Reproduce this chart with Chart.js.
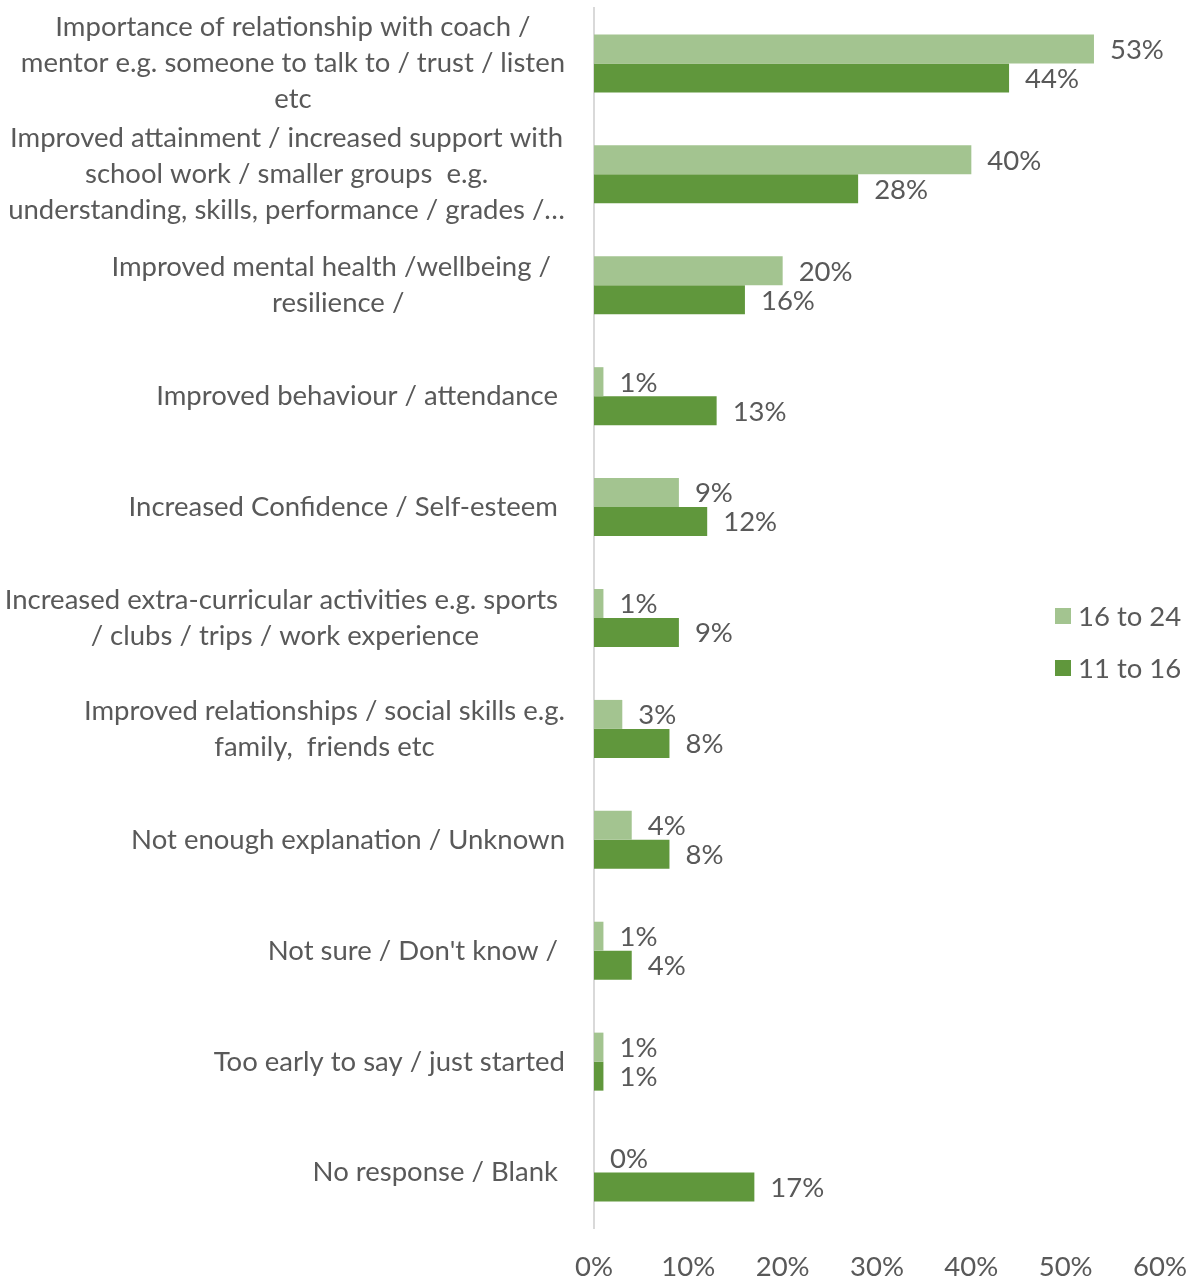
<!DOCTYPE html>
<html>
<head>
<meta charset="utf-8">
<script src="https://cdn.jsdelivr.net/npm/chart.js@4.4.1/dist/chart.umd.min.js"></script>
<style>
  body { margin: 0; background: #fff; }
  #wrap { width: 1194px; height: 1277px; position: relative; }
</style>
</head>
<body>
<div id="wrap"><canvas id="impactChart"></canvas></div>
<script>
// categories, each one an array of wrapped lines (trailing spaces kept as typed)
const categories = [
  ["Importance of relationship with coach /", "mentor e.g. someone to talk to / trust / listen", "etc"],
  ["Improved attainment / increased support with", "school work / smaller groups  e.g.", "understanding, skills, performance / grades /\u2026"],
  ["Improved mental health /wellbeing /  ", "resilience /"],
  ["Improved behaviour / attendance "],
  ["Increased Confidence / Self-esteem "],
  ["Increased extra-curricular activities e.g. sports ", "/ clubs / trips / work experience"],
  ["Improved relationships / social skills e.g.", "family,  friends etc"],
  ["Not enough explanation / Unknown"],
  ["Not sure / Don't know / "],
  ["Too early to say / just started"],
  ["No response / Blank "]
];
const age16to24 = [53, 40, 20, 1, 9, 1, 3, 4, 1, 1, 0];
const age11to16 = [44, 28, 16, 13, 12, 9, 8, 8, 4, 1, 17];
const xTicks = [0, 10, 20, 30, 40, 50, 60];

const textColor = "#595959";
const fontFamily = "Lato, 'Open Sans', sans-serif";
const fontSize = 27.5;

// category labels: lines centred inside a block that sits against the axis
const categoryLabels = {
  id: "categoryLabels",
  afterDraw(chart) {
    const ctx = chart.ctx;
    const y = chart.scales.y;
    const right = y.right - 29;
    const lineH = 36;
    ctx.save();
    ctx.font = fontSize + "px " + fontFamily;
    ctx.fillStyle = textColor;
    ctx.textAlign = "center";
    ctx.textBaseline = "middle";
    categories.forEach((lines, i) => {
      const mid = y.getPixelForTick(i);
      const widest = Math.max(...lines.map(l => ctx.measureText(l).width));
      const cx = right - widest / 2;
      const top = mid - (lines.length - 1) * lineH / 2;
      lines.forEach((l, j) => {
        const w = ctx.measureText(l).width;
        const lead = ctx.measureText(l.trimEnd()).width;
        // centre the visible text as if trailing spaces were part of it
        ctx.fillText(l.trimEnd(), cx - (w - lead) / 2, top + j * lineH);
      });
    });
    ctx.restore();
  }
};

// percentage labels at the end of each bar
const valueLabels = {
  id: "valueLabels",
  afterDatasetsDraw(chart) {
    const ctx = chart.ctx;
    ctx.save();
    ctx.font = fontSize + "px " + fontFamily;
    ctx.fillStyle = textColor;
    ctx.textAlign = "left";
    ctx.textBaseline = "middle";
    chart.data.datasets.forEach((ds, d) => {
      chart.getDatasetMeta(d).data.forEach((bar, i) => {
        ctx.fillText(ds.data[i] + "%", bar.x + 16, bar.y + 1);
      });
    });
    ctx.restore();
  }
};

// legend floating over the right side of the plot
const sideLegend = {
  id: "sideLegend",
  afterDraw(chart) {
    const ctx = chart.ctx;
    const x = 1055;
    const ys = [616, 668];
    ctx.save();
    ctx.font = fontSize + "px " + fontFamily;
    ctx.textAlign = "left";
    ctx.textBaseline = "middle";
    chart.data.datasets.forEach((ds, d) => {
      ctx.fillStyle = ds.backgroundColor;
      ctx.fillRect(x, ys[d] - 8, 16, 16);
      ctx.fillStyle = textColor;
      ctx.fillText(ds.label, x + 23, ys[d] + 1);
    });
    ctx.restore();
  }
};

const impactChart = new Chart("impactChart", {
  type: "bar",
  data: {
    labels: categories,
    datasets: [
      { label: "16 to 24", data: age16to24, backgroundColor: "#A3C490" },
      { label: "11 to 16", data: age11to16, backgroundColor: "#60973C" }
    ]
  },
  options: {
    indexAxis: "y",
    responsive: true,
    maintainAspectRatio: false,
    animation: false,
    layout: { padding: { top: 8, right: 34, left: 0, bottom: 0 } },
    categoryPercentage: 0.523,
    barPercentage: 1,
    plugins: { legend: { display: false }, tooltip: { enabled: false } },
    scales: {
      x: {
        min: 0, max: 60,
        afterBuildTicks(scale) { scale.ticks = xTicks.map(v => ({ value: v })); },
        afterFit(scale) {
          scale.height = 49;
          // keep the tick padding from widening the side margins
          scale.paddingLeft = 0;
          scale.paddingRight = 34;
        },
        grid: { display: false, drawTicks: false },
        border: { display: false },
        ticks: {
          color: textColor,
          padding: 23,
          font: { family: fontFamily, size: fontSize },
          callback: v => v + "%"
        }
      },
      y: {
        afterFit(scale) { scale.width = 594; },
        grid: { display: false, drawTicks: false },
        border: { color: "#D9D9D9", width: 2 },
        ticks: { display: false }
      }
    }
  },
  plugins: [categoryLabels, valueLabels, sideLegend]
});
</script>
</body>
</html>
